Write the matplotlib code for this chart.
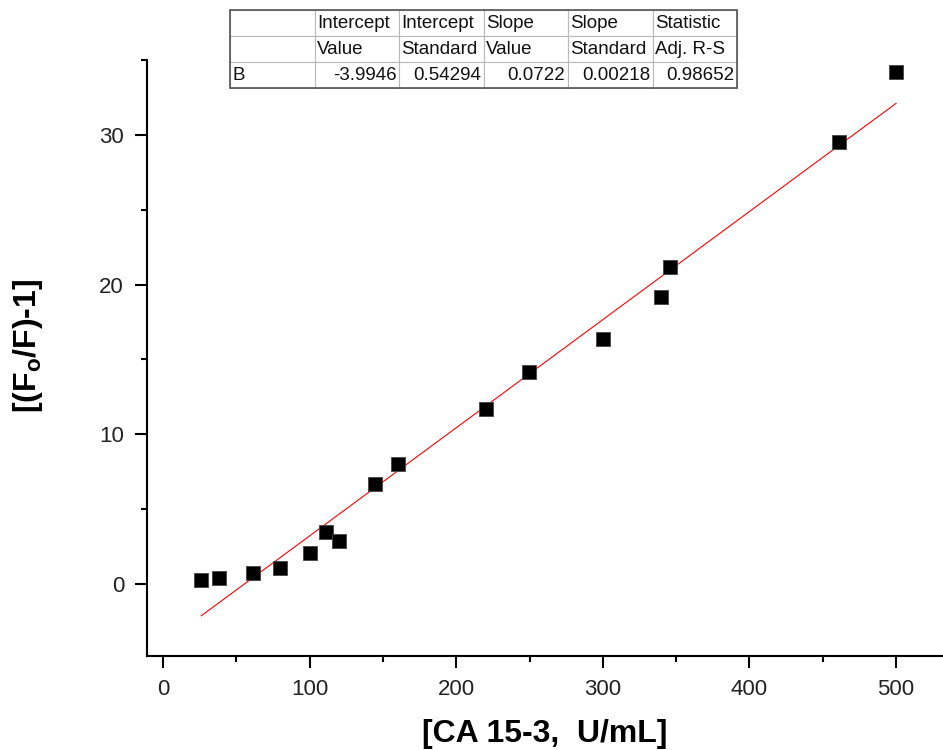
import matplotlib
matplotlib.use("Agg")
import matplotlib.pyplot as plt
import numpy as np
from matplotlib.ticker import MultipleLocator

plt.rcParams["font.family"] = ["Liberation Sans", "DejaVu Sans"]
plt.rcParams["mathtext.fontset"] = "custom"
plt.rcParams["mathtext.bf"] = "Liberation Sans:bold"
plt.rcParams["mathtext.rm"] = "Liberation Sans"

# --- data ---
conc = [26, 38, 61, 80, 100, 111, 120, 144.5, 160, 220, 249.5, 300, 339.5, 345.6, 461, 500]
response = [0.27, 0.4, 0.73, 1.07, 2.05, 3.5, 2.85, 6.7, 8.05, 11.7, 14.15, 16.35, 19.2, 21.15, 29.5, 34.2]

intercept = -3.9946
slope = 0.0722

table_header1 = ["", "Intercept", "Intercept", "Slope", "Slope", "Statistic"]
table_header2 = ["", "Value", "Standard", "Value", "Standard", "Adj. R-S"]
table_row = ["B", "-3.9946", "0.54294", "0.0722", "0.00218", "0.98652"]

fig = plt.figure(figsize=(9.43, 7.5), dpi=100)
ax = fig.add_axes([147 / 943, 94 / 750, 1 - 147 / 943, (656 - 60) / 750])

ax.plot(conc, response, "s", color="black", markersize=10.5,
        markeredgecolor="#444444", markeredgewidth=0.6, zorder=3)

xfit = np.array([min(conc), max(conc)])
ax.plot(xfit, intercept + slope * xfit, color="red", linewidth=0.8, zorder=2)

ax.set_xlim(-11, 532)
ax.set_ylim(-4.8, 35)
ax.xaxis.set_major_locator(MultipleLocator(100))
ax.xaxis.set_minor_locator(MultipleLocator(50))
ax.yaxis.set_major_locator(MultipleLocator(10))
ax.yaxis.set_minor_locator(MultipleLocator(5))

for s in ["top", "right"]:
    ax.spines[s].set_visible(False)
for s in ["left", "bottom"]:
    ax.spines[s].set_linewidth(1.5)

ax.tick_params(which="major", direction="out", length=8.5, width=1.5,
               labelsize=16, colors="black", labelcolor="#222222", pad=8)
ax.tick_params(which="minor", direction="out", length=4.5, width=1.5)

ax.set_xlabel("[CA 15-3,  U/mL]", fontsize=23, fontweight="bold", labelpad=14)
ax.set_ylabel(r"[(F$_\mathbf{o}$/F)-1]", fontsize=23, fontweight="bold")
ax.yaxis.set_label_coords(-0.128, 0.52)

# fit results table
tax = fig.add_axes([230 / 943, (750 - 88) / 750, (737 - 230) / 943, 78 / 750])
tax.axis("off")
tbl = tax.table(cellText=[table_header1, table_header2, table_row],
                bbox=[0, 0, 1, 1], cellLoc="left")
tbl.auto_set_font_size(False)
for (r, c), cell in tbl.get_celld().items():
    cell.set_edgecolor("#b8b8b8")
    cell.set_linewidth(0.8)
    cell.get_text().set_fontsize(13.5)
    cell.get_text().set_color("#111111")
    cell.PAD = 0.03
    if r == 2 and c > 0:
        cell.get_text().set_horizontalalignment("right")
        cell._loc = "right"
tax.add_patch(plt.Rectangle((0, 0), 1, 1, transform=tax.transAxes, fill=False,
                            edgecolor="#555555", linewidth=1.2, clip_on=False))

fig.savefig("out.png", dpi=100)
